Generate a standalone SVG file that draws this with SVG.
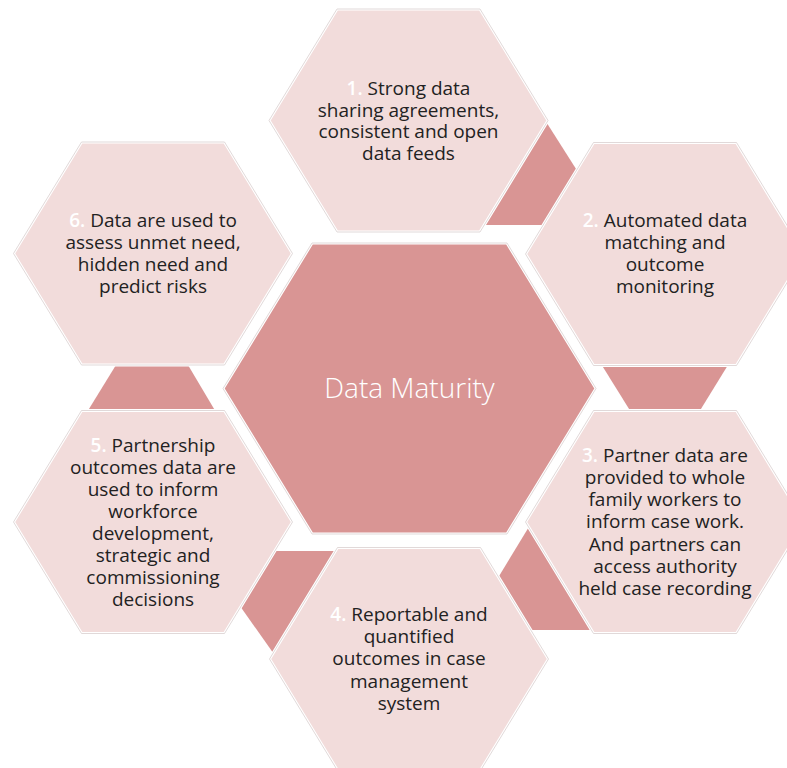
<svg xmlns="http://www.w3.org/2000/svg" width="787" height="768" viewBox="0 0 787 768">
  <style>
    .bg { fill: #ffffff; }
    .link { fill: #d99594; }
    .hex { fill: #f2dcdb; stroke: #ffffff; stroke-width: 3; stroke-linejoin: round; }
    .core { fill: #d99594; stroke: #ffffff; stroke-width: 3; stroke-linejoin: round; }
    .rim { fill: none; stroke: #d9cfcf; stroke-width: 0.8; stroke-linejoin: round; }
    .lbl { font-family: "Open Sans", "Noto Sans", "Liberation Sans", sans-serif; font-size: 19px; fill: #222222; text-anchor: middle; }
    .num { fill: #ffffff; font-weight: 600; }
    .title { font-family: "Open Sans", "Noto Sans", "Liberation Sans", sans-serif; font-size: 28px; font-weight: 300; fill: #ffffff; text-anchor: middle; }
  </style>

  <rect class="bg" x="0" y="0" width="787" height="768"/>

  <!-- dark joining pieces between neighbouring steps -->
  <g id="connectors">
    <polygon class="link" points="546.7,122.7 576.7,170 543.2,225 484.3,225"/>
    <polygon class="link" points="602,365.5 727.7,365.5 700,410.5 630,410.5"/>
    <polygon class="link" points="528.7,527.2 498.5,577 530.8,630 591.4,630"/>
    <polygon class="link" points="274.8,551 335.4,551 273.2,653 240.7,607"/>
    <polygon class="link" points="116,365 188,365 215,410.5 88,410.5"/>
  </g>

  <!-- centre -->
  <g id="center">
    <polygon class="core" points="223,388.5 312,243 507,243 596,388.5 507,534 312,534"/>
    <polygon class="rim" points="223,388.5 312,243 507,243 596,388.5 507,534 312,534"/>
    <text class="title" x="409.5" y="398">Data Maturity</text>
  </g>

  <!-- step 1 -->
  <g id="step1">
    <polygon class="hex" points="269,120.5 337,9 480,9 548,120.5 480,232 337,232"/>
    <polygon class="rim" points="269,120.5 337,9 480,9 548,120.5 480,232 337,232"/>
    <text class="lbl" x="408.5" y="95"><tspan class="num">1.</tspan> Strong data</text>
    <text class="lbl" x="408.5" y="116.7">sharing agreements,</text>
    <text class="lbl" x="408.5" y="138.4">consistent and open</text>
    <text class="lbl" x="408.5" y="160.1">data feeds</text>
  </g>

  <!-- step 2 -->
  <g id="step2">
    <polygon class="hex" points="525.5,254 593.5,142.5 736.5,142.5 804.5,254 736.5,365.5 593.5,365.5"/>
    <polygon class="rim" points="525.5,254 593.5,142.5 736.5,142.5 804.5,254 736.5,365.5 593.5,365.5"/>
    <text class="lbl" x="665" y="226.7"><tspan class="num">2.</tspan> Automated data</text>
    <text class="lbl" x="665" y="248.8">matching and</text>
    <text class="lbl" x="665" y="270.9">outcome</text>
    <text class="lbl" x="665" y="293">monitoring</text>
  </g>

  <!-- step 3 -->
  <g id="step3">
    <polygon class="hex" points="525.5,522 593.5,410.5 736.5,410.5 804.5,522 736.5,633.5 593.5,633.5"/>
    <polygon class="rim" points="525.5,522 593.5,410.5 736.5,410.5 804.5,522 736.5,633.5 593.5,633.5"/>
    <text class="lbl" x="665" y="461.7"><tspan class="num">3.</tspan> Partner data are</text>
    <text class="lbl" x="665" y="483.9">provided to whole</text>
    <text class="lbl" x="665" y="506.1">family workers to</text>
    <text class="lbl" x="665" y="528.3">inform case work.</text>
    <text class="lbl" x="665" y="550.5">And partners can</text>
    <text class="lbl" x="665" y="572.7">access authority</text>
    <text class="lbl" x="665" y="594.9">held case recording</text>
  </g>

  <!-- step 4 -->
  <g id="step4">
    <polygon class="hex" points="269.5,659 337.5,547.5 480.5,547.5 548.5,659 480.5,770.5 337.5,770.5"/>
    <polygon class="rim" points="269.5,659 337.5,547.5 480.5,547.5 548.5,659 480.5,770.5 337.5,770.5"/>
    <text class="lbl" x="409" y="621"><tspan class="num">4.</tspan> Reportable and</text>
    <text class="lbl" x="409" y="643.2">quantified</text>
    <text class="lbl" x="409" y="665.4">outcomes in case</text>
    <text class="lbl" x="409" y="687.6">management</text>
    <text class="lbl" x="409" y="709.8">system</text>
  </g>

  <!-- step 5 -->
  <g id="step5">
    <polygon class="hex" points="13.5,522 81.5,410.5 224.5,410.5 292.5,522 224.5,633.5 81.5,633.5"/>
    <polygon class="rim" points="13.5,522 81.5,410.5 224.5,410.5 292.5,522 224.5,633.5 81.5,633.5"/>
    <text class="lbl" x="153" y="451.7"><tspan class="num">5.</tspan> Partnership</text>
    <text class="lbl" x="153" y="473.8">outcomes data are</text>
    <text class="lbl" x="153" y="495.9">used to inform</text>
    <text class="lbl" x="153" y="518">workforce</text>
    <text class="lbl" x="153" y="540.1">development,</text>
    <text class="lbl" x="153" y="562.2">strategic and</text>
    <text class="lbl" x="153" y="584.3">commissioning</text>
    <text class="lbl" x="153" y="606.4">decisions</text>
  </g>

  <!-- step 6 -->
  <g id="step6">
    <polygon class="hex" points="13.5,253.5 81.5,142 224.5,142 292.5,253.5 224.5,365 81.5,365"/>
    <polygon class="rim" points="13.5,253.5 81.5,142 224.5,142 292.5,253.5 224.5,365 81.5,365"/>
    <text class="lbl" x="153" y="226.7"><tspan class="num">6.</tspan> Data are used to</text>
    <text class="lbl" x="153" y="248.8">assess unmet need,</text>
    <text class="lbl" x="153" y="270.9">hidden need and</text>
    <text class="lbl" x="153" y="293">predict risks</text>
  </g>
</svg>
